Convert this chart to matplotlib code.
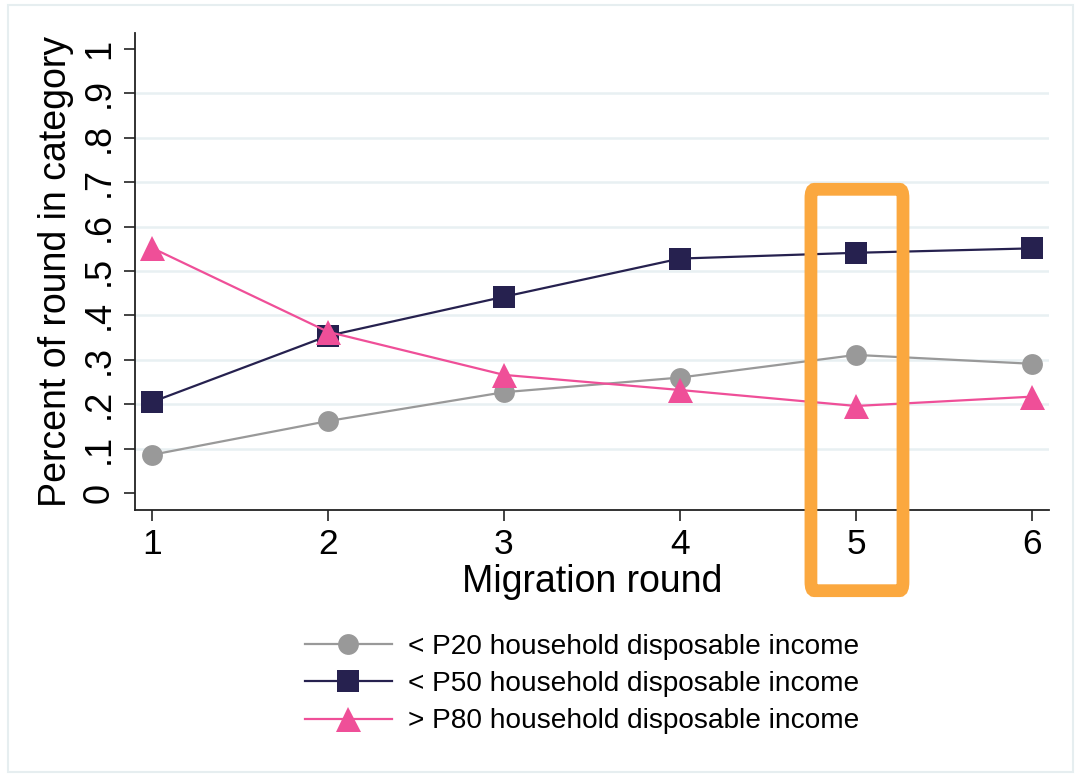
import matplotlib
matplotlib.use("Agg")
import matplotlib.pyplot as plt
from matplotlib.patches import Rectangle, FancyBboxPatch

plt.rcParams['font.family'] = ['Liberation Sans', 'DejaVu Sans']

rounds = [1, 2, 3, 4, 5, 6]
p20 = [0.086, 0.162, 0.227, 0.260, 0.311, 0.291]
p50 = [0.205, 0.354, 0.442, 0.528, 0.541, 0.551]
p80 = [0.552, 0.363, 0.266, 0.232, 0.196, 0.217]
labels = ["< P20 household disposable income",
          "< P50 household disposable income",
          "> P80 household disposable income"]
yticks = [0, 0.1, 0.2, 0.3, 0.4, 0.5, 0.6, 0.7, 0.8, 0.9, 1.0]
yticklabels = ["0", ".1", ".2", ".3", ".4", ".5", ".6", ".7", ".8", ".9", "1"]

W, H = 1076, 778
fig = plt.figure(figsize=(W / 100, H / 100), dpi=100)
fig.patch.set_facecolor("white")

# outer border
fig.patches.append(Rectangle((8 / W, 1 - 772 / H), (1073 - 8) / W, (772 - 5) / H,
                             transform=fig.transFigure, fill=False,
                             edgecolor="#e6eef0", linewidth=1.5))

ax = fig.add_axes([135 / W, 1 - 510 / H, (1049 - 135) / W, (510 - 33) / H])
ax.set_xlim(1 - 17 / 176, 6 + 17 / 176)
ax.set_ylim(-17 / 444, 1 + 16 / 444)

for y in yticks[1:-1]:
    ax.axhline(y, color="#e8f0f2", linewidth=1.8, zorder=0)

c20, c50, c80 = "#999999", "#26214f", "#ef4f98"
ax.plot(rounds, p20, color=c20, linewidth=1.6, marker="o", markersize=15,
        markeredgewidth=0, label=labels[0], zorder=3)
ax.plot(rounds, p50, color=c50, linewidth=1.6, marker="s", markersize=16,
        markeredgewidth=0, label=labels[1], zorder=3)
ax.plot(rounds, p80, color=c80, linewidth=1.6, marker="^", markersize=18,
        markeredgewidth=0, label=labels[2], zorder=3)

ax.set_xticks(rounds)
ax.set_xticklabels([str(r) for r in rounds], fontsize=25.5)
ax.set_yticks(yticks)
ax.set_yticklabels(yticklabels, fontsize=26, rotation=90, va="center")
ax.tick_params(axis="both", length=8, width=1.2, color="#222222", pad=5)
for s in ["top", "right"]:
    ax.spines[s].set_visible(False)
for s in ["left", "bottom"]:
    ax.spines[s].set_linewidth(1.3)
    ax.spines[s].set_color("#222222")

ax.set_xlabel("Migration round", fontsize=27, labelpad=2)
ax.set_ylabel("Percent of round in category", fontsize=27, labelpad=6)

# highlight box around round 5
box = FancyBboxPatch((4.744, -0.22), 5.267 - 4.744, 0.684 + 0.22,
                     boxstyle="round,pad=0,rounding_size=0.02",
                     transform=ax.transData, fill=False,
                     edgecolor="#fba83f", linewidth=9.2, clip_on=False, zorder=5)
ax.add_patch(box)

leg = fig.legend(loc="upper left", bbox_to_anchor=(305 / W, 1 - 634 / H),
                 frameon=False, fontsize=20.2, handlelength=3.1,
                 handletextpad=0.58, labelspacing=0.4, borderpad=0,
                 borderaxespad=0, markerscale=1.0)

fig.savefig("out.png", dpi=100)
